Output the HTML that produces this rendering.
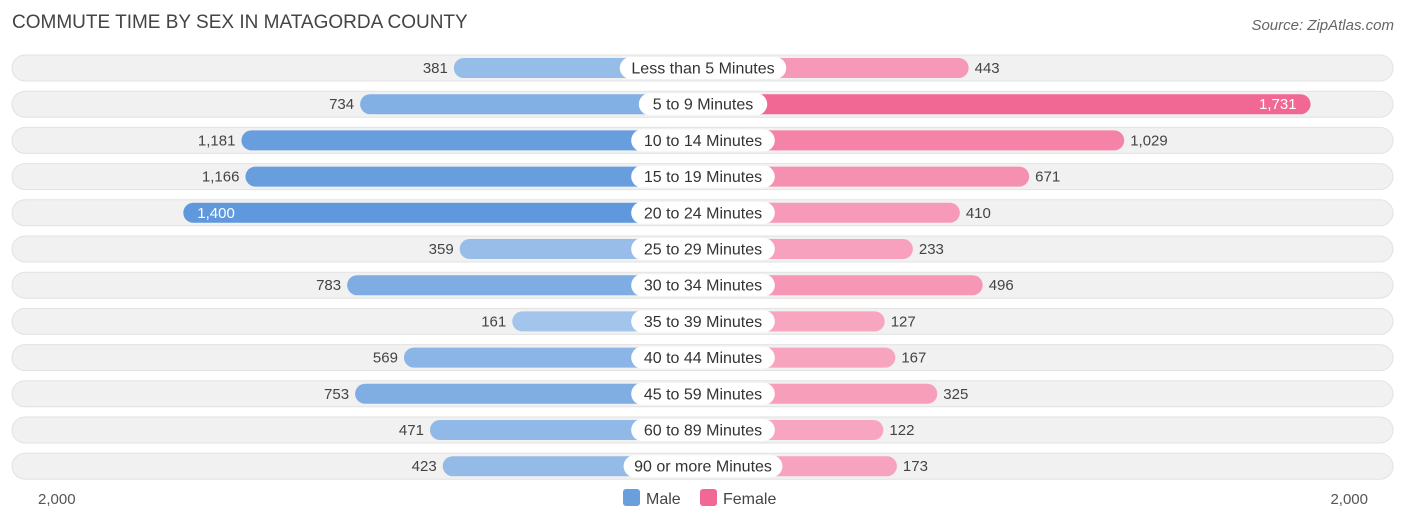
<!DOCTYPE html>
<html><head><meta charset="utf-8"><style>
body{margin:0;background:#fff;font-family:"Liberation Sans",sans-serif;}
svg text{font-family:"Liberation Sans",sans-serif;}
</style></head><body>
<svg id="c" width="1406" height="523">
<text x="12" y="28" font-size="19" fill="#444">COMMUTE TIME BY SEX IN MATAGORDA COUNTY</text>
<text x="1394" y="30" font-size="15" fill="#666" text-anchor="end" font-style="italic">Source: ZipAtlas.com</text>
<g id="rows"></g>
<text x="38" y="504" font-size="15" fill="#555">2,000</text>
<text x="1368" y="504" font-size="15" fill="#555" text-anchor="end">2,000</text>
<g><rect x="623" y="489" width="17" height="17" rx="3" fill="#6a9fdc"/><text x="646" y="504" font-size="16" fill="#444">Male</text></g>
<g><rect x="700" y="489" width="17" height="17" rx="3" fill="#f26894"/><text x="723" y="504" font-size="16" fill="#444">Female</text></g>
</svg>
<script>
const categories=["Less than 5 Minutes","5 to 9 Minutes","10 to 14 Minutes","15 to 19 Minutes","20 to 24 Minutes","25 to 29 Minutes","30 to 34 Minutes","35 to 39 Minutes","40 to 44 Minutes","45 to 59 Minutes","60 to 89 Minutes","90 or more Minutes"];
const male=[381,734,1181,1166,1400,359,783,161,569,753,471,423];
const female=[443,1731,1029,671,410,233,496,127,167,325,122,173];
const cx=703, off=148, k=0.2655, y0=68, dy=36.2;
const ns="http://www.w3.org/2000/svg";
const g=document.getElementById('rows');
function el(t,a){const e=document.createElementNS(ns,t);for(const p in a)e.setAttribute(p,a[p]);return e;}
function fmt(v){return v.toLocaleString('en-US');}
const maxAll=Math.max(...male,...female);
function mix(a,b,t){return 'rgb('+a.map((x,i)=>Math.round(x+(b[i]-x)*t)).join(',')+')';}
categories.forEach((c,i)=>{
  const y=y0+i*dy;
  const bg=el('rect',{x:12,y:y-13,width:1381,height:26,rx:13,fill:'#f1f1f1',stroke:'#e2e2e2'});
  
  
  g.appendChild(bg);
  const mw=off+male[i]*k, fw=off+female[i]*k;
  const mt=male[i]/maxAll, ft=female[i]/maxAll;
  const mb=el('rect',{x:cx-mw,y:y-10,width:mw,height:20,rx:10,fill:mix([172,203,237],[95,152,220],Math.min(1,mt*1.3))});
  
  
  g.appendChild(mb);
  const fb=el('rect',{x:cx,y:y-10,width:fw,height:20,rx:10,fill:mix([248,170,196],[242,104,148],Math.min(1,ft*1.0))});
  
  
  g.appendChild(fb);
  const lw=c.length*7.6+22;
  const pill=el('rect',{x:cx-lw/2,y:y-11,width:lw,height:22,rx:11,fill:'#fff'});
  
  
  g.appendChild(pill);
  const lt=el('text',{x:cx,y:y+5.5,'font-size':16,fill:'#333','text-anchor':'middle'});lt.textContent=c;
  
  
  g.appendChild(lt);
  const mIn=male[i]>=1300, fIn=female[i]>=1300;
  const mv=el('text',{x:mIn?cx-mw+14:cx-mw-6,y:y+5,'font-size':15,fill:mIn?'#fff':'#444','text-anchor':mIn?'start':'end'});mv.textContent=fmt(male[i]);
  
  
  g.appendChild(mv);
  const fv=el('text',{x:fIn?cx+fw-14:cx+fw+6,y:y+5,'font-size':15,fill:fIn?'#fff':'#444','text-anchor':fIn?'end':'start'});fv.textContent=fmt(female[i]);
  
  
  g.appendChild(fv);
});
</script>
</body></html>
